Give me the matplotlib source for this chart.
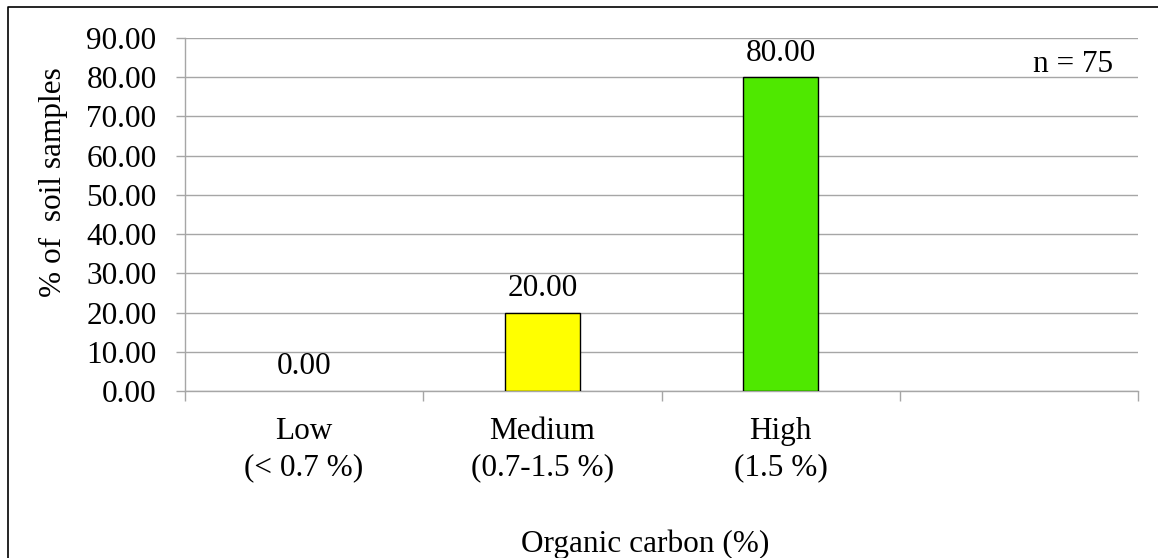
import matplotlib.pyplot as plt
from matplotlib.lines import Line2D
from matplotlib.ticker import FixedLocator, FormatStrFormatter

plt.rcParams['font.family'] = ['Liberation Serif', 'DejaVu Serif']

categories = ["Low\n(< 0.7 %)", "Medium\n(0.7-1.5 %)", "High\n(1.5 %)"]
percent = [0.00, 20.00, 80.00]
bar_colors = ["#ffff00", "#ffff00", "#4fe800"]
n_samples = 75

FS = 22.5
GRID = "#a6a6a6"

fig = plt.figure(figsize=(11.58, 5.58), dpi=100)
ax = fig.add_axes([185 / 1158, 1 - 391 / 558, 953 / 1158, 353 / 558])

x = list(range(len(categories)))
# zero-height bars get no outline
edge_w = [1.0 if v > 0 else 0.0 for v in percent]
bars = ax.bar(x, percent, width=0.315, color=bar_colors, edgecolor="black",
              linewidth=edge_w, zorder=3)

for rect, v in zip(bars, percent):
    ax.annotate(f"{v:.2f}", (rect.get_x() + rect.get_width() / 2, v),
                xytext=(0, 12), textcoords="offset points",
                ha="center", va="baseline", fontsize=FS)

ax.set_xlim(-0.5, 3.5)
ax.set_ylim(0, 90)
ax.set_yticks(range(0, 91, 10))
ax.yaxis.set_major_formatter(FormatStrFormatter("%.2f"))
ax.yaxis.grid(True, color=GRID, linewidth=1.0, zorder=0)

ax.set_xticks(x)
ax.set_xticklabels(categories, fontsize=FS, linespacing=1.3)
ax.xaxis.set_minor_locator(FixedLocator([-0.5, 0.5, 1.5, 2.5, 3.5]))
ax.tick_params(axis="x", which="major", length=0, pad=19)
ax.tick_params(axis="x", which="minor", length=7, width=1.0, color=GRID)
ax.tick_params(axis="y", length=6.5, width=1.0, color=GRID, pad=14,
               labelsize=FS)

for side in ("top", "right"):
    ax.spines[side].set_visible(False)
for side in ("left", "bottom"):
    ax.spines[side].set_color(GRID)
    ax.spines[side].set_linewidth(1.0)

ax.text(0.974, 0.904, f"n = {n_samples}", transform=ax.transAxes,
        ha="right", va="baseline", fontsize=FS)

fig.text(53 / 1158, 1 - 182 / 558, "% of  soil samples", rotation=90,
         ha="center", va="center", fontsize=FS)
fig.text(645 / 1158, 6 / 558, "Organic carbon (%)",
         ha="center", va="baseline", fontsize=FS)

# chart-area frame on the left and top edges
fig.add_artist(Line2D([8 / 1158, 8 / 1158, 1], [0, 1 - 7 / 558, 1 - 7 / 558],
                      transform=fig.transFigure, color="black", linewidth=1.2))

fig.savefig("out.png", dpi=100)
